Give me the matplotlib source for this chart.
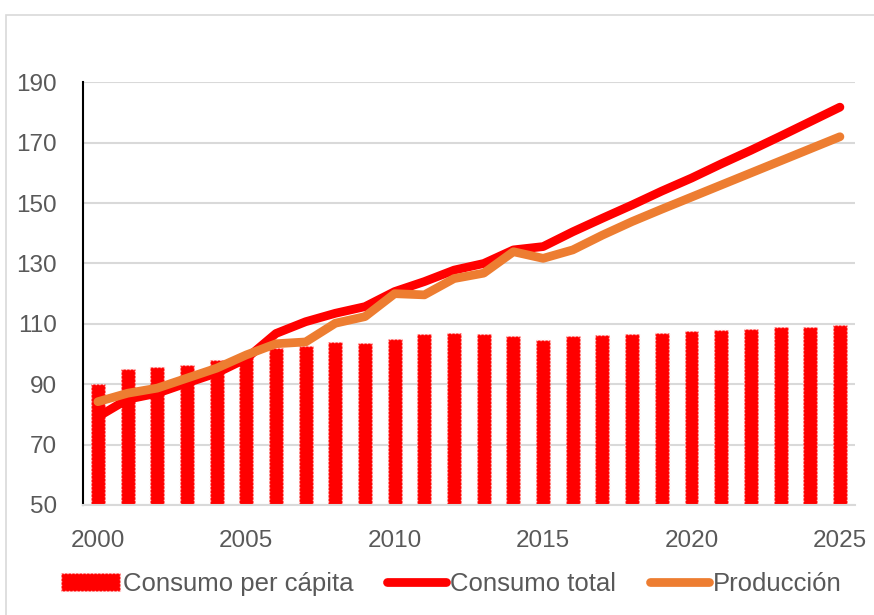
import numpy as np
import matplotlib.pyplot as plt
from matplotlib.patches import Rectangle, Patch
from matplotlib.lines import Line2D

years = list(range(2000, 2026))
per_capita = [90, 95, 95.7, 96.4, 98, 100, 102, 102.7, 104, 103.6, 104.9, 106.5, 106.8,
              106.5, 106.1, 104.8, 105.9, 106.3, 106.6, 107.1, 107.7, 108, 108.2, 108.8,
              109.1, 109.6]
consumo_total = [79.2, 85, 87, 90.4, 93.7, 98.5, 106.8, 110.7, 113.5, 115.7, 120.7, 124,
                 127.8, 130, 134.5, 135.6, 140.5, 145, 149.4, 154, 158.3, 163, 167.5,
                 172.2, 177, 181.8]
produccion = [84.2, 87, 88.7, 92, 95.3, 99.7, 103.4, 104, 110.2, 112.4, 120, 119.6, 125,
              126.8, 133.9, 131.7, 134.5, 139.4, 143.9, 148, 152, 156, 160, 164, 168, 172]
y_ticks = [50, 70, 90, 110, 130, 150, 170, 190]

plt.rcParams['font.family'] = ['Liberation Sans', 'DejaVu Sans']
text_color = '#595959'
grid_color = '#d9d9d9'
red = '#ff0000'
orange = '#ed7d31'

fig = plt.figure(figsize=(8.74, 6.15), dpi=100)
ax = fig.add_axes([0.095, 0.179, 0.883, 0.687])

x = np.arange(len(years))
ax.bar(x, np.array(per_capita) - 50, bottom=50, width=0.47, color=red,
       edgecolor='#ffd6d6', linestyle=':', linewidth=1.0, zorder=2)
ax.plot(x, consumo_total, color=red, lw=6.3, solid_capstyle='round',
        solid_joinstyle='round', zorder=3)
ax.plot(x, produccion, color=orange, lw=6.3, solid_capstyle='round',
        solid_joinstyle='round', zorder=4)

ax.set_xlim(-0.5, len(years) - 0.5)
ax.set_ylim(50, 190)
ax.set_yticks(y_ticks)
ax.set_yticklabels([str(v) for v in y_ticks], color=text_color, fontsize=17.5)
tick_pos = [i for i, yr in enumerate(years) if yr % 5 == 0]
ax.set_xticks(tick_pos)
ax.set_xticklabels([str(years[i]) for i in tick_pos], color=text_color, fontsize=17.5)
ax.tick_params(axis='both', length=0)
ax.tick_params(axis='y', pad=19)
ax.tick_params(axis='x', pad=18)

ax.grid(axis='y', color=grid_color, lw=1.5, zorder=0)
ax.set_axisbelow(True)
for s in ['top', 'right']:
    ax.spines[s].set_visible(False)
ax.spines['bottom'].set_color(grid_color)
ax.spines['bottom'].set_linewidth(1.5)
ax.spines['left'].set_color('black')
ax.spines['left'].set_linewidth(1.5)

handles = [
    Patch(facecolor=red, edgecolor='#ffd6d6', linestyle=':', linewidth=1.0),
    Line2D([0], [0], color=red, lw=6.3, solid_capstyle='round'),
    Line2D([0], [0], color=orange, lw=6.3, solid_capstyle='round'),
]
labels = ['Consumo per cápita', 'Consumo total', 'Producción']
leg = fig.legend(handles, labels, loc='center', bbox_to_anchor=(0.516, 0.051), ncol=3,
                 frameon=False, fontsize=18.5, handlelength=2.3, handletextpad=0.15,
                 columnspacing=1.3, labelcolor=text_color)

fig.patches.append(Rectangle((6 / 874, -0.05), 1.1, 1 - 15 / 615 + 0.05,
                             transform=fig.transFigure, fill=False,
                             edgecolor=grid_color, lw=1.2, clip_on=False))

fig.savefig('out.png', dpi=100)
